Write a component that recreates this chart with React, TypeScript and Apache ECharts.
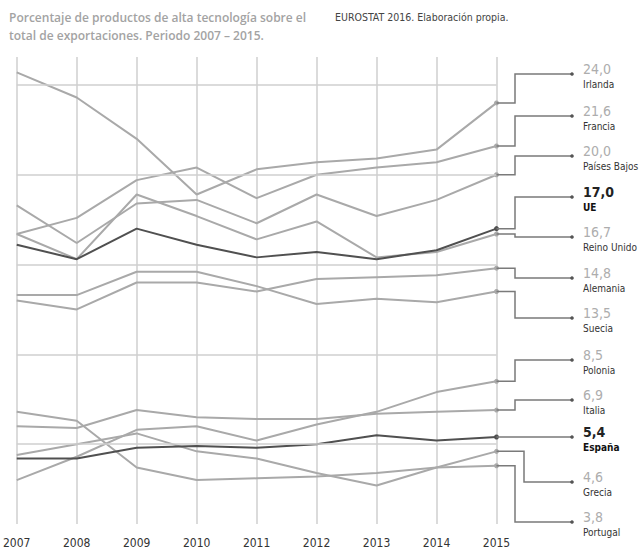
import React, { useEffect, useRef } from 'react';
import * as echarts from 'echarts';

const years = ['2007', '2008', '2009', '2010', '2011', '2012', '2013', '2014', '2015'];

const countries = ['Irlanda', 'Francia', 'Países Bajos', 'UE', 'Reino Unido', 'Alemania', 'Suecia', 'Polonia', 'Italia', 'España', 'Grecia', 'Portugal'];

const irlanda = [25.7, 24.3, 22.0, 18.9, 20.3, 20.7, 20.9, 21.4, 24.0];
const francia = [16.7, 17.6, 19.7, 20.4, 18.7, 20.0, 20.4, 20.7, 21.6];
const paisesBajos = [18.3, 16.2, 18.4, 18.6, 17.3, 18.9, 17.7, 18.6, 20.0];
const ue = [16.1, 15.3, 17.0, 16.1, 15.4, 15.7, 15.3, 15.8, 17.0];
const reinoUnido = [16.7, 15.3, 18.9, 17.7, 16.4, 17.4, 15.4, 15.7, 16.7];
const alemania = [13.0, 12.5, 14.0, 14.0, 13.5, 14.2, 14.3, 14.4, 14.8];
const suecia = [13.3, 13.3, 14.6, 14.6, 13.8, 12.8, 13.1, 12.9, 13.5];
const polonia = [3.0, 4.3, 5.8, 6.0, 5.2, 6.1, 6.8, 7.9, 8.5];
const italia = [6.0, 5.9, 6.9, 6.5, 6.4, 6.4, 6.7, 6.8, 6.9];
const espana = [4.2, 4.2, 4.8, 4.9, 4.8, 5.0, 5.5, 5.2, 5.4];
const grecia = [4.4, 5.0, 5.6, 4.6, 4.2, 3.4, 2.7, 3.7, 4.6];
const portugal = [6.8, 6.3, 3.7, 3.0, 3.1, 3.2, 3.4, 3.7, 3.8];

const seriesValues = [irlanda, francia, paisesBajos, ue, reinoUnido, alemania, suecia, polonia, italia, espana, grecia, portugal];
const highlighted = ['UE', 'España'];
const gridValues = [5, 10, 15, 20, 25];

const title1 = 'Porcentaje de productos de alta tecnología sobre el';
const title2 = 'total de exportaciones. Periodo 2007 – 2015.';
const sourceText = 'EUROSTAT 2016. Elaboración propia.';

// layout of the right-hand labels (pixel y of each connector end)
const labelY = [74, 116, 156, 197, 237, 278, 318, 360, 400, 437, 482, 522];
const elbowX = [515, 515, 515, 515, 515, 515, 515, 515, 515, 515, 524, 515];

const NARROW = '"Liberation Sans Narrow", "DejaVu Sans Condensed", sans-serif';
const GRAY = '#a9a9a9';
const DARK = '#505050';

export default function App() {
  const ref = useRef<HTMLDivElement>(null);
  useEffect(() => {
    if (!ref.current) return;
    const chart = echarts.init(ref.current, undefined, { renderer: 'svg' });
    const last = years.length - 1;
    const series: any[] = countries.map((name, i) => {
      const hi = highlighted.includes(name);
      return {
        name,
        type: 'line',
        z: hi ? 4 : 3,
        symbol: 'none',
        showSymbol: true,
        data: seriesValues[i].map((v, j) =>
          j === last ? { value: v, symbol: 'circle', symbolSize: 5 } : v
        ),
        lineStyle: { color: hi ? DARK : GRAY, width: 2 },
        itemStyle: { color: hi ? DARK : GRAY },
        silent: true,
      };
    });
    series.push({
      type: 'line',
      data: [],
      z: 1,
      silent: true,
      markLine: {
        silent: true,
        symbol: 'none',
        label: { show: false },
        lineStyle: { color: '#cfcfcf', width: 1.5, type: 'solid' },
        data: gridValues.map((v) => ({ yAxis: v })),
      },
    });
    chart.setOption({
      animation: false,
      grid: { left: 8, right: 142.5, top: 57, bottom: 24 },
      xAxis: {
        type: 'category',
        data: years,
        boundaryGap: false,
        axisLine: { show: false },
        axisTick: { show: false },
        splitLine: { show: true, lineStyle: { color: '#cfcfcf', width: 1.5 } },
        axisLabel: { color: '#333', fontFamily: NARROW, fontSize: 12, margin: 13 },
      },
      yAxis: {
        type: 'value',
        min: 0.5556,
        max: 26.5556,
        show: false,
        splitLine: { show: false },
      },
      series,
    });

    const g: any[] = [
      {
        type: 'text', left: 9, top: 8,
        style: { text: title1 + '\n' + title2, fill: '#a3a3a3', font: '600 12px "Open Sans", sans-serif', lineHeight: 18 },
      },
      {
        type: 'text', left: 335, top: 11,
        style: { text: sourceText, fill: '#444', font: '10.5px ' + NARROW },
      },
    ];
    countries.forEach((name, i) => {
      const v = seriesValues[i][last];
      const p = chart.convertToPixel({ gridIndex: 0 }, [years[last], v]) as number[];
      const hi = highlighted.includes(name);
      const cy = labelY[i];
      g.push({
        type: 'polyline',
        z: 5,
        silent: true,
        shape: { points: [[p[0], p[1]], [elbowX[i], p[1]], [elbowX[i], cy], [572, cy]] },
        style: { stroke: '#7a7a7a', lineWidth: 1.5, fill: null },
      });
      g.push({ type: 'circle', z: 6, shape: { cx: 572, cy, r: 1.8 }, style: { fill: '#555' } });
      g.push({
        type: 'text', z: 6, x: 583, y: cy - 5,
        style: {
          text: v.toFixed(1).replace('.', ','),
          fill: hi ? '#222' : '#adadad',
          font: (hi ? 'bold ' : '') + '14px ' + NARROW,
          verticalAlign: 'middle',
        },
      });
      g.push({
        type: 'text', z: 6, x: 583, y: cy + 10,
        style: {
          text: name,
          fill: hi ? '#111' : '#333',
          font: (hi ? 'bold ' : '') + '10px ' + NARROW,
          verticalAlign: 'middle',
        },
      });
    });
    chart.setOption({ graphic: g });
    return () => chart.dispose();
  }, []);
  return <div ref={ref} style={{ position: 'absolute', left: 0, top: 0, width: 639, height: 549 }} />;
}
